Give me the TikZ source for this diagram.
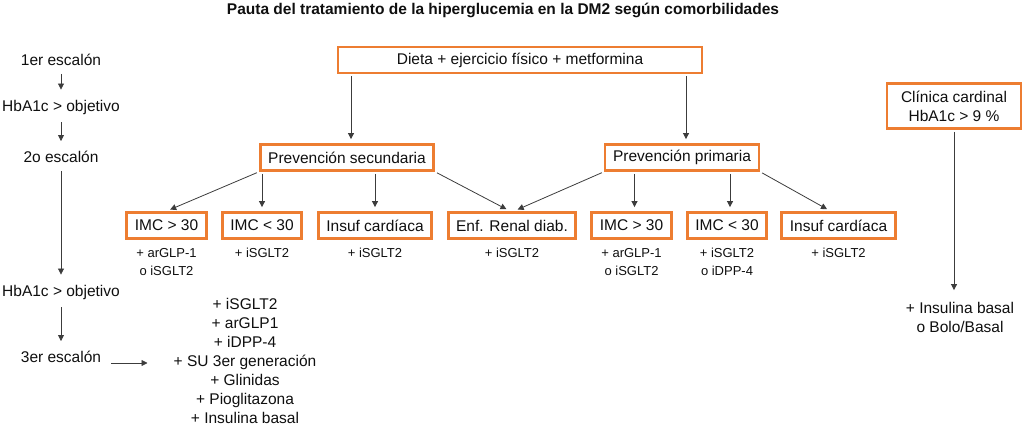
\documentclass[tikz,border=0pt]{standalone}
\usepackage{fontspec}
\setmainfont{Liberation Sans}
\usetikzlibrary{arrows.meta,positioning}
\definecolor{boxorange}{RGB}{237,125,49}
\definecolor{arrowgray}{RGB}{60,60,60}
\definecolor{textblack}{RGB}{15,15,15}

\begin{document}
\begin{tikzpicture}[x=1pt,y=-1pt,
  every node/.style={text=textblack, font=\fontsize{15.5}{19}\selectfont},
  box/.style={draw=boxorange, line width=2.8pt, inner xsep=8pt, inner ysep=0pt, minimum height=26pt},
  stage/.style={inner xsep=2pt, inner ysep=6pt},
  note/.style={inner sep=0pt, align=center, font=\fontsize{13}{18}\selectfont},
  arr/.style={draw=arrowgray, line width=0.8pt, shorten <=2pt, shorten >=4pt,
    -{Triangle[length=6pt,width=6pt]}}]

\useasboundingbox (0,0) rectangle (1024,427);

\node[font=\fontsize{15.5}{19}\selectfont\bfseries] (title) at (503,10)
  {Pauta del tratamiento de la hiperglucemia en la DM2 según comorbilidades};

% escalones
\node[stage] (e1) at (61,60) {1er escalón};
\node[stage] (h1) at (61,107) {HbA1c > objetivo};
\node[stage] (e2) at (61,157) {2o escalón};
\node[stage] (h2) at (61,292) {HbA1c > objetivo};
\node[stage] (e3) at (61,357) {3er escalón};

\draw[arr] (e1) -- (h1);
\draw[arr] (h1) -- (e2);
\draw[arr] (e2) -- (h2);
\draw[arr] (h2) -- (e3);

\node[align=center, inner sep=0pt] (drugs) at (245,361)
  {+ iSGLT2\\+ arGLP1\\+ iDPP-4\\+ SU 3er generación\\+ Glinidas\\+ Pioglitazona\\+ Insulina basal};
\draw[arr, shorten <=8pt, shorten >=26pt] ([yshift=-6pt]e3.east) -- ([yshift=-6pt]e3.east -| drugs.west);

% cajas
\node[box, minimum width=364pt] (dieta) at (520,60) {Dieta + ejercicio físico + metformina};
\node[box] (psec) at (347,157.5) {Prevención secundaria};
\node[box] (pprim) at (682,157.5) {Prevención primaria};
\node[box, minimum width=134pt, minimum height=45pt, align=center] (clin) at (954,106)
  {Clínica cardinal\\HbA1c > 9 \%};

\draw[arr] ([xshift=4pt]psec.north |- dieta.south) -- ([xshift=4pt]psec.north);
\draw[arr] ([xshift=4pt]pprim.north |- dieta.south) -- ([xshift=4pt]pprim.north);

\node[box] (s1) at (166.5,225.5) {IMC > 30};
\node[box] (s2) at (262,225.5) {IMC < 30};
\node[box] (s3) at (375,225.5) {Insuf cardíaca};
\node[box] (enf) at (512,225.5) {Enf. Renal diab.};
\node[box] (p1) at (631.5,225.5) {IMC > 30};
\node[box] (p2) at (727,225.5) {IMC < 30};
\node[box] (p3) at (838.5,225.5) {Insuf cardíaca};

\draw[arr] (psec.south west) -- (s1.north);
\draw[arr] (s2 |- psec.south) -- (s2.north);
\draw[arr] (s3 |- psec.south) -- (s3.north);
\draw[arr] (psec.south east) -- ([xshift=-2pt]enf.north);
\draw[arr] (pprim.south west) -- ([xshift=2pt]enf.north);
\draw[arr] ([xshift=3pt]p1.north |- pprim.south) -- ([xshift=3pt]p1.north);
\draw[arr] ([xshift=3pt]p2.north |- pprim.south) -- ([xshift=3pt]p2.north);
\draw[arr] (pprim.south east) -- ([xshift=-8pt]p3.north);

% tratamientos
\node[note, below=8pt of s1] (n1) {+ arGLP-1\\o iSGLT2};
\node[note, below=8pt of s2] (n2) {+ iSGLT2};
\node[note, below=8pt of s3] (n3) {+ iSGLT2};
\node[note, below=8pt of enf] (n4) {+ iSGLT2};
\node[note, below=8pt of p1] (n5) {+ arGLP-1\\o iSGLT2};
\node[note, below=8pt of p2] (n6) {+ iSGLT2\\o iDPP-4};
\node[note, below=8pt of p3] (n7) {+ iSGLT2};

\node[align=center, inner sep=0pt] (ins) at (960,317.5) {+ Insulina basal\\o Bolo/Basal};
\draw[arr, shorten >=12pt] (clin.south) -- (clin.south |- ins.north);
\end{tikzpicture}
\end{document}
